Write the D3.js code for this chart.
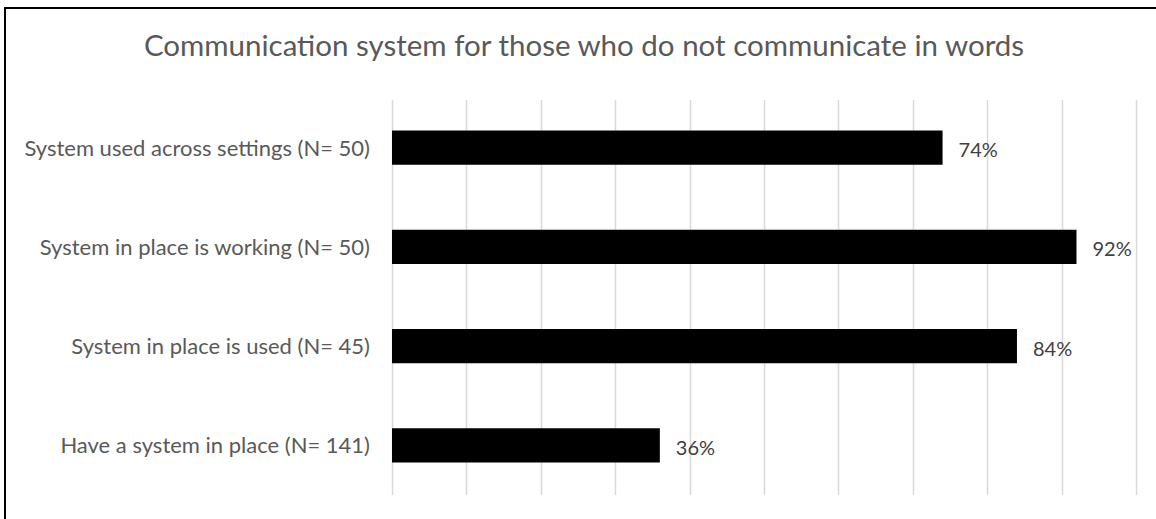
<!DOCTYPE html>
<html>
<head>
<meta charset="utf-8">
<script src="https://cdn.jsdelivr.net/npm/d3@7"></script>
<style>
  html, body { margin: 0; padding: 0; background: #fff; }
  svg { display: block; }
  text { font-family: Lato, "Open Sans", sans-serif; }
</style>
</head>
<body>
<svg id="chart" width="1156" height="519"></svg>
<script>
// Share of respondents for each stage of the communication system
const categories = [
  "System used across settings (N= 50)",
  "System in place is working (N= 50)",
  "System in place is used (N= 45)",
  "Have a system in place (N= 141)"
];
const values = [74, 92, 84, 36];
const xTicks = [0, 10, 20, 30, 40, 50, 60, 70, 80, 90, 100];
const title = "Communication system for those who do not communicate in words";

const H = 519;
const plot = { left: 392, right: 1136, top: 98, bottom: 495, gridTop: 100 };

const svg = d3.select("#chart");

// chart frame
svg.append("rect")
  .attr("x", 5).attr("y", 8)
  .attr("width", 1160).attr("height", 530)
  .attr("fill", "#fff")
  .attr("stroke", "#000")
  .attr("stroke-width", 2);

const x = d3.scaleLinear().domain([0, 100]).range([plot.left, plot.right]);
const y = d3.scaleBand().domain(categories)
  .range([plot.top, plot.bottom])
  .paddingInner(0.655).paddingOuter(0.3275);

// vertical gridlines
svg.append("g")
  .selectAll("line")
  .data(xTicks)
  .join("line")
  .attr("x1", d => Math.round(x(d)) + 0.5)
  .attr("x2", d => Math.round(x(d)) + 0.5)
  .attr("y1", plot.gridTop)
  .attr("y2", plot.bottom)
  .attr("stroke", "#d9d9d9")
  .attr("stroke-width", 1.5);

// bars
svg.append("g")
  .selectAll("rect")
  .data(values)
  .join("rect")
  .attr("x", x(0))
  .attr("y", (d, i) => y(categories[i]))
  .attr("width", d => x(d) - x(0))
  .attr("height", y.bandwidth())
  .attr("fill", "#000");

// value labels
svg.append("g")
  .selectAll("text")
  .data(values)
  .join("text")
  .attr("x", d => x(d) + 16)
  .attr("y", (d, i) => y(categories[i]) + y.bandwidth() / 2 + 9.5)
  .attr("font-size", 20)
  .attr("fill", "#404040")
  .text(d => d + "%");

// category axis labels
svg.append("g")
  .selectAll("text")
  .data(categories)
  .join("text")
  .attr("x", 370)
  .attr("y", d => y(d) + y.bandwidth() / 2 + 8)
  .attr("text-anchor", "end")
  .attr("font-size", 22)
  .attr("fill", "#595959")
  .text(d => d);

// title
svg.append("text")
  .attr("x", 584)
  .attr("y", 56)
  .attr("text-anchor", "middle")
  .attr("font-size", 29.5)
  .attr("fill", "#595959")
  .text(title);
</script>
</body>
</html>
